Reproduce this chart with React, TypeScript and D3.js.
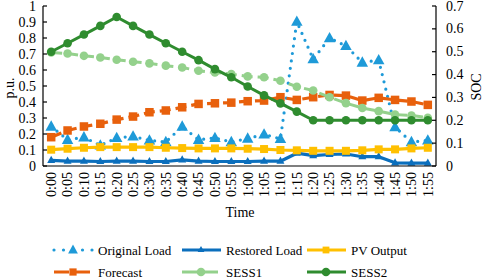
import React from "react";
import * as d3 from "d3";

const categories = ["0:00","0:05","0:10","0:15","0:20","0:25","0:30","0:35","0:40","0:45","0:50","0:55","1:00","1:05","1:10","1:15","1:20","1:25","1:30","1:35","1:40","1:45","1:50","1:55"];
const originalLoad = [0.247,0.164,0.18,0.129,0.176,0.185,0.16,0.15,0.247,0.164,0.176,0.15,0.172,0.198,0.17,0.902,0.668,0.799,0.751,0.647,0.662,0.243,0.15,0.16];
const restoredLoad = [0.035,0.03,0.03,0.028,0.03,0.03,0.028,0.028,0.038,0.03,0.028,0.028,0.028,0.03,0.03,0.08,0.065,0.072,0.075,0.058,0.058,0.02,0.018,0.018];
const pvOutput = [0.102,0.108,0.114,0.118,0.118,0.118,0.118,0.114,0.112,0.11,0.11,0.11,0.108,0.106,0.1,0.098,0.095,0.095,0.095,0.098,0.104,0.104,0.11,0.114];
const forecast = [0.18,0.222,0.247,0.264,0.29,0.309,0.336,0.347,0.367,0.388,0.392,0.396,0.405,0.409,0.43,0.413,0.43,0.444,0.44,0.409,0.426,0.413,0.403,0.382];
const sess1 = [0.497,0.492,0.482,0.475,0.465,0.456,0.449,0.439,0.431,0.417,0.409,0.402,0.392,0.388,0.373,0.347,0.33,0.301,0.275,0.254,0.24,0.225,0.221,0.211];
const sess2 = [0.5,0.537,0.575,0.613,0.652,0.613,0.575,0.537,0.5,0.463,0.424,0.388,0.348,0.309,0.274,0.238,0.2,0.2,0.2,0.2,0.2,0.2,0.2,0.2];
const leftTicks = [0,0.1,0.2,0.3,0.4,0.5,0.6,0.7,0.8,0.9,1];
const rightTicks = [0,0.1,0.2,0.3,0.4,0.5,0.6,0.7];

const FONT = "'Liberation Serif', 'Times New Roman', serif";

type Marker = "tri" | "smalltri" | "square" | "circle";
interface Series {
  name: string;
  values: number[];
  axis: "left" | "right";
  color: string;
  width: number;
  dash?: string;
  cap?: string;
  marker: Marker;
  msize: number;
}

const series: Series[] = [
  { name: "Original Load", values: originalLoad, axis: "left", color: "#1E9AD8", width: 3.2, dash: "0 7.5", cap: "round", marker: "tri", msize: 11.5 },
  { name: "Restored Load", values: restoredLoad, axis: "left", color: "#0B6FBD", width: 3.2, marker: "smalltri", msize: 8 },
  { name: "PV Output", values: pvOutput, axis: "left", color: "#FFC000", width: 3.2, marker: "square", msize: 8 },
  { name: "Forecast", values: forecast, axis: "left", color: "#E8600C", width: 3.2, dash: "11 5", marker: "square", msize: 8.5 },
  { name: "SESS1", values: sess1, axis: "right", color: "#94D18C", width: 3, dash: "11 5", marker: "circle", msize: 4.3 },
  { name: "SESS2", values: sess2, axis: "right", color: "#2F8C2F", width: 3, marker: "circle", msize: 4.3 },
];

function MarkerShape({ m, x, y, s, color }: { m: Marker; x: number; y: number; s: number; color: string }) {
  if (m === "circle") return <circle cx={x} cy={y} r={s} fill={color} />;
  if (m === "square") return <rect x={x - s / 2} y={y - s / 2} width={s} height={s} fill={color} />;
  const h = s * 0.9;
  const pts = `${x},${y - h / 2 - 1} ${x - s / 2},${y + h / 2 - 1} ${x + s / 2},${y + h / 2 - 1}`;
  return <polygon points={pts} fill={color} />;
}

export default function App() {
  const W = 484, H = 279;
  const left = 43, right = 436, top = 6, bottom = 166;
  const x = d3.scalePoint<string>().domain(categories).range([left, right]).padding(0.5);
  const yL = d3.scaleLinear().domain([0, 1]).range([bottom, top]);
  const yR = d3.scaleLinear().domain([0, 0.7]).range([bottom, top]);

  const legendCols = [54, 182, 307];
  const legendRows = [250, 272];

  return (
    <svg width={W} height={H} style={{ position: "absolute", left: 0, top: 0, background: "#fff" }} fontFamily={FONT}>
      {series.map((s) => {
        const ys = s.axis === "left" ? yL : yR;
        const line = d3.line<number>().x((_, i) => x(categories[i])!).y((v) => ys(v));
        return (
          <g key={s.name}>
            <path d={line(s.values)!} fill="none" stroke={s.color} strokeWidth={s.width}
              strokeDasharray={s.dash} strokeLinecap={(s.cap as any) || "butt"} strokeLinejoin="round" />
            {s.values.map((v, i) => (
              <MarkerShape key={i} m={s.marker} x={x(categories[i])!} y={ys(v)} s={s.msize} color={s.color} />
            ))}
          </g>
        );
      })}
      <g stroke="#000" strokeWidth={1.2}>
        <line x1={left} x2={left} y1={top} y2={bottom} />
        <line x1={right} x2={right} y1={top} y2={bottom} />
        <line x1={left} x2={right} y1={bottom} y2={bottom} />
        {leftTicks.map((t) => (
          <line key={"lt" + t} x1={left} x2={left + 4} y1={yL(t)} y2={yL(t)} />
        ))}
        {rightTicks.map((t) => (
          <line key={"rt" + t} x1={right - 4} x2={right} y1={yR(t)} y2={yR(t)} />
        ))}
      </g>
      <g fontSize={14} fill="#000">
        {leftTicks.map((t) => (
          <text key={"ll" + t} x={36} y={yL(t)} dy="0.33em" textAnchor="end">{+t.toFixed(1)}</text>
        ))}
        {rightTicks.map((t) => (
          <text key={"rl" + t} x={446} y={yR(t)} dy="0.33em" textAnchor="start">{+t.toFixed(1)}</text>
        ))}
        {categories.map((c) => (
          <text key={c} transform={`translate(${x(c)},172) rotate(-90)`} dy="0.35em" textAnchor="end">{c}</text>
        ))}
        <text x={240} y={212} dy="0.35em" textAnchor="middle">Time</text>
        <text transform="translate(9,88) rotate(-90)" dy="0.35em" textAnchor="middle">p.u.</text>
        <text transform="translate(476,87) rotate(-90)" dy="0.35em" textAnchor="middle">SOC</text>
      </g>
      {series.map((s, i) => {
        const lx = legendCols[i % 3];
        const ly = legendRows[Math.floor(i / 3)];
        const mx = lx + 19;
        return (
          <g key={"lg" + s.name}>
            <line x1={lx} x2={lx + 39} y1={ly} y2={ly} stroke={s.color} strokeWidth={s.width}
              strokeDasharray={s.cap === "round" ? "0 9.5" : s.dash ? "15 6" : undefined}
              strokeLinecap={(s.cap as any) || "butt"} />
            <MarkerShape m={s.marker} x={mx} y={ly} s={s.msize * (s.marker === "circle" ? 1 : 0.85)} color={s.color} />
            <text x={lx + 44} y={ly} dy="0.35em" fontSize={13}>{s.name}</text>
          </g>
        );
      })}
    </svg>
  );
}
